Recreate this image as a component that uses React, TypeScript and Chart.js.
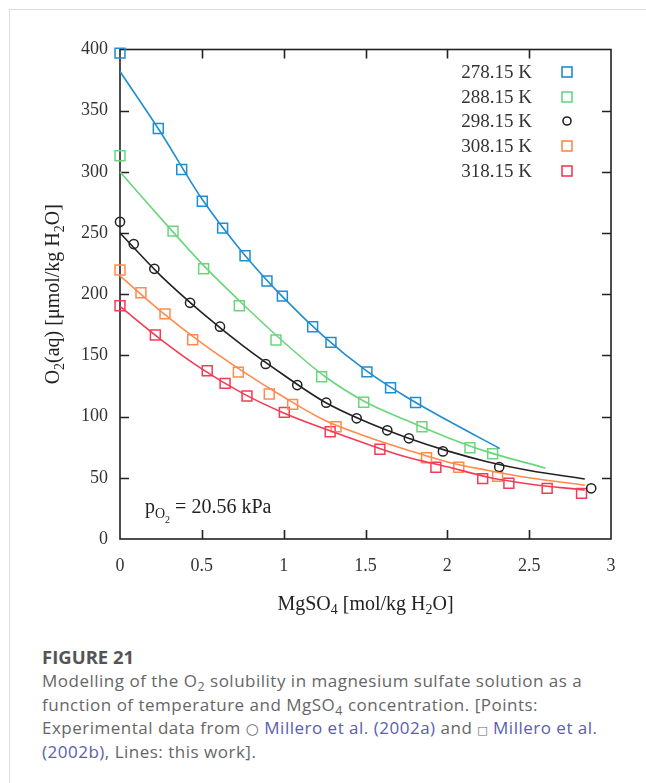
import React, { useEffect, useRef } from "react";
import { Chart, registerables } from "chart.js";

Chart.register(...registerables);

// ---- axis ticks ----
const xTickValues = [0, 0.5, 1, 1.5, 2, 2.5, 3];
const xTickLabels = ["0", "0.5", "1", "1.5", "2", "2.5", "3"];
const yTickValues = [0, 50, 100, 150, 200, 250, 300, 350, 400];

// ---- legend labels ----
const seriesLabels = ["278.15 K", "288.15 K", "298.15 K", "308.15 K", "318.15 K"];

// ---- experimental points ----
const x278 = [0, 0.234, 0.377, 0.503, 0.627, 0.764, 0.898, 0.992, 1.177, 1.289, 1.509, 1.653, 1.806];
const y278 = [397, 335.5, 302, 276, 254, 231.5, 210.8, 198.5, 173.5, 160.7, 136.6, 123.6, 111.5];
const x288 = [0, 0.324, 0.511, 0.729, 0.953, 1.232, 1.489, 1.845, 2.138, 2.277];
const y288 = [313.2, 251.6, 220.8, 190.6, 162.6, 132.6, 111.7, 91.7, 74.6, 69.7];
const x298 = [0, 0.084, 0.21, 0.428, 0.611, 0.89, 1.083, 1.26, 1.446, 1.633, 1.765, 1.973, 2.317, 2.879];
const y298 = [259.2, 241, 220.8, 193, 173.5, 143, 125.8, 111.4, 98.6, 88.8, 82.3, 71.6, 58.8, 41.4];
const x308 = [0, 0.128, 0.275, 0.444, 0.723, 0.912, 1.055, 1.32, 1.873, 2.07, 2.307];
const y308 = [219.8, 201.2, 184, 162.8, 136.4, 118.5, 110, 91.7, 66.4, 58.6, 51.2];
const x318 = [0, 0.216, 0.533, 0.642, 0.776, 1.004, 1.284, 1.588, 1.93, 2.216, 2.376, 2.61, 2.82];
const y318 = [190.6, 166.7, 137.5, 127.2, 116.8, 103.5, 87.7, 73.3, 58.6, 49.3, 45.5, 41.4, 37.3];

// ---- model lines (this work) ----
const lx278 = [0, 0.25, 0.5, 0.75, 1, 1.25, 1.5, 1.75, 2, 2.32];
const ly278 = [382, 332, 278, 234, 197, 165, 138, 116, 97, 74];
const lx288 = [0, 0.25, 0.5, 0.75, 1, 1.25, 1.5, 1.75, 2, 2.25, 2.6];
const ly288 = [300, 262, 225, 192, 161, 133, 112, 97, 83, 71, 58];
const lx298 = [0, 0.25, 0.5, 0.75, 1, 1.25, 1.5, 1.75, 2, 2.25, 2.5, 2.84];
const ly298 = [250, 215, 185, 158, 134, 112, 96, 83, 72, 63, 56, 49];
const lx308 = [0, 0.25, 0.5, 0.75, 1, 1.25, 1.5, 1.75, 2, 2.25, 2.5, 2.84];
const ly308 = [215, 186, 160, 137, 116, 97, 84, 73, 63, 56, 50, 44];
const lx318 = [0, 0.25, 0.5, 0.75, 1, 1.25, 1.5, 1.75, 2, 2.25, 2.5, 2.84];
const ly318 = [190, 163, 139, 119, 103, 90, 78, 67, 59, 50.5, 45, 40];

const COLORS = ["#1f8dd0", "#6ad67c", "#222222", "#ff8a4c", "#f43b55"];
const STYLES = ["rect", "rect", "circle", "rect", "rect"];
const SERIF = "'Liberation Serif', 'DejaVu Serif', serif";

const pts = (xs: number[], ys: number[]) => xs.map((x, i) => ({ x, y: ys[i] }));

type Seg = { t: string; size: number; dy?: number };

function drawRich(ctx: CanvasRenderingContext2D, segs: Seg[], x: number, y: number, align: "left" | "center") {
  ctx.save();
  ctx.textBaseline = "alphabetic";
  ctx.textAlign = "left";
  let total = 0;
  const widths = segs.map((s) => {
    ctx.font = `${s.size}px ${SERIF}`;
    const w = ctx.measureText(s.t).width;
    total += w;
    return w;
  });
  let cx = align === "center" ? x - total / 2 : x;
  segs.forEach((s, i) => {
    ctx.font = `${s.size}px ${SERIF}`;
    ctx.fillText(s.t, cx, y + (s.dy || 0));
    cx += widths[i];
  });
  ctx.restore();
}

const decorPlugin = {
  id: "decor",
  beforeDatasetsDraw(chart: any) {
    const { ctx, chartArea: a, scales } = chart;
    const xs = scales.x;
    const ys = scales.y;
    ctx.save();
    ctx.strokeStyle = "#222";
    ctx.lineWidth = 1.6;
    ctx.strokeRect(a.left, a.top, a.right - a.left, a.bottom - a.top);
    const tl = 9;
    ctx.beginPath();
    xTickValues.slice(1, -1).forEach((v) => {
      const px = Math.round(xs.getPixelForValue(v)) + 0.5;
      ctx.moveTo(px, a.bottom);
      ctx.lineTo(px, a.bottom - tl);
      ctx.moveTo(px, a.top);
      ctx.lineTo(px, a.top + tl);
    });
    yTickValues.slice(1, -1).forEach((v) => {
      const py = Math.round(ys.getPixelForValue(v)) + 0.5;
      ctx.moveTo(a.left, py);
      ctx.lineTo(a.left + tl, py);
      ctx.moveTo(a.right, py);
      ctx.lineTo(a.right - tl, py);
    });
    ctx.stroke();
    ctx.restore();
  },
  afterDraw(chart: any) {
    const { ctx, chartArea: a } = chart;
    ctx.save();
    ctx.fillStyle = "#222";
    // y-axis title
    ctx.save();
    ctx.translate(a.left - 68, (a.top + a.bottom) / 2);
    ctx.rotate(-Math.PI / 2);
    drawRich(
      ctx,
      [
        { t: "O", size: 20 },
        { t: "2", size: 14, dy: 5 },
        { t: "(aq) [\u03bcmol/kg H", size: 20 },
        { t: "2", size: 14, dy: 5 },
        { t: "O]", size: 20 },
      ],
      0,
      7,
      "center"
    );
    ctx.restore();
    // x-axis title
    drawRich(
      ctx,
      [
        { t: "MgSO", size: 20 },
        { t: "4", size: 14, dy: 4 },
        { t: " [mol/kg H", size: 20 },
        { t: "2", size: 14, dy: 4 },
        { t: "O]", size: 20 },
      ],
      (a.left + a.right) / 2,
      a.bottom + 71,
      "center"
    );
    // annotation
    drawRich(
      ctx,
      [
        { t: "p", size: 20 },
        { t: "O", size: 14, dy: 5 },
        { t: "2", size: 10, dy: 10 },
        { t: " = 20.56 kPa", size: 20 },
      ],
      a.left + 25,
      a.bottom - 26,
      "left"
    );
    // legend
    const rowY = [62, 87, 111, 136, 161];
    ctx.font = `19px ${SERIF}`;
    ctx.textAlign = "right";
    ctx.textBaseline = "middle";
    seriesLabels.forEach((lab, i) => {
      const y = rowY[i];
      ctx.fillStyle = "#333";
      ctx.fillText(lab, 522, y + 1);
      ctx.strokeStyle = COLORS[i];
      ctx.lineWidth = 1.6;
      if (STYLES[i] === "circle") {
        ctx.beginPath();
        ctx.arc(557, y, 4, 0, Math.PI * 2);
        ctx.stroke();
      } else {
        ctx.strokeRect(552, y - 5, 10, 10);
      }
    });
    ctx.restore();
  },
};

export default function App() {
  const ref = useRef<HTMLCanvasElement | null>(null);
  useEffect(() => {
    if (!ref.current) return;
    const pointSets = [
      pts(x278, y278),
      pts(x288, y288),
      pts(x298, y298),
      pts(x308, y308),
      pts(x318, y318),
    ];
    const lineSets = [
      pts(lx278, ly278),
      pts(lx288, ly288),
      pts(lx298, ly298),
      pts(lx308, ly308),
      pts(lx318, ly318),
    ];
    const datasets: any[] = [];
    lineSets.forEach((d, i) => {
      datasets.push({
        label: seriesLabels[i] + " model",
        data: d,
        showLine: true,
        borderColor: COLORS[i],
        borderWidth: 1.6,
        pointRadius: 0,
        cubicInterpolationMode: "monotone",
        fill: false,
        clip: false,
      });
    });
    pointSets.forEach((d, i) => {
      datasets.push({
        label: seriesLabels[i],
        data: d,
        showLine: false,
        borderColor: COLORS[i],
        backgroundColor: "rgba(0,0,0,0)",
        pointStyle: STYLES[i],
        pointRadius: STYLES[i] === "circle" ? 4.6 : 7,
        pointBorderWidth: 1.5,
        clip: false,
      });
    });
    const chart = new Chart(ref.current, {
      type: "scatter",
      data: { datasets },
      options: {
        animation: false,
        responsive: false,
        devicePixelRatio: 1,
        layout: { padding: { left: 0, top: 39.5, right: 35, bottom: 0 } },
        plugins: { legend: { display: false }, tooltip: { enabled: false } },
        scales: {
          x: {
            type: "linear",
            min: 0,
            max: 3,
            afterFit: (s: any) => {
              s.height = 91;
            },
            afterBuildTicks: (s: any) => {
              s.ticks = xTickValues.map((v) => ({ value: v }));
            },
            grid: { display: false, drawTicks: false },
            border: { display: false },
            ticks: {
              padding: 16,
              color: "#333",
              font: { family: SERIF, size: 18 },
              callback: (v: any) => {
                const i = xTickValues.indexOf(Number(v));
                return i >= 0 ? xTickLabels[i] : "";
              },
            },
          },
          y: {
            type: "linear",
            min: 0,
            max: 400,
            afterFit: (s: any) => {
              s.width = 110;
            },
            afterBuildTicks: (s: any) => {
              s.ticks = yTickValues.map((v) => ({ value: v }));
            },
            grid: { display: false, drawTicks: false },
            border: { display: false },
            ticks: {
              padding: 12,
              color: "#333",
              font: { family: SERIF, size: 18 },
            },
          },
        },
      },
      plugins: [decorPlugin],
    });
    return () => chart.destroy();
  }, []);

  const link = { color: "#5a5db0" };
  return (
    <div
      style={{
        position: "absolute",
        left: 9,
        top: 9,
        width: 637,
        height: 774,
        borderLeft: "1px solid #dcdcdc",
        borderTop: "1px solid #dcdcdc",
        background: "#fff",
      }}
    >
      <canvas ref={ref} width={636} height={620} style={{ display: "block", width: 636, height: 620 }} />
      <div
        style={{
          position: "absolute",
          left: 32,
          top: 635,
          fontFamily: "'Open Sans', 'Noto Sans', sans-serif",
          whiteSpace: "nowrap",
        }}
      >
        <div style={{ fontWeight: 700, fontSize: 18.5, lineHeight: "24px", color: "#555" }}>FIGURE 21</div>
        <div style={{ fontSize: 17, lineHeight: "23.7px", color: "#666", letterSpacing: 0.5 }}>
          Modelling of the O<sub style={{ fontSize: 12.5, lineHeight: 0 }}>2</sub> solubility in magnesium sulfate solution as a
          <br />
          function of temperature and MgSO<sub style={{ fontSize: 12.5, lineHeight: 0 }}>4</sub> concentration. [Points:
          <br />
          Experimental data from{" "}
          <span style={{ fontSize: 15, lineHeight: 0, fontFamily: "'DejaVu Sans', sans-serif" }}>○</span>{" "}
          <span style={link}>Millero et al. (2002a)</span> and{" "}
          <span style={{ fontSize: 11, lineHeight: 0, fontFamily: "'DejaVu Sans', sans-serif" }}>□</span>{" "}
          <span style={link}>Millero et al.</span>
          <br />
          <span style={link}>(2002b)</span>, Lines: this work].
        </div>
      </div>
    </div>
  );
}
